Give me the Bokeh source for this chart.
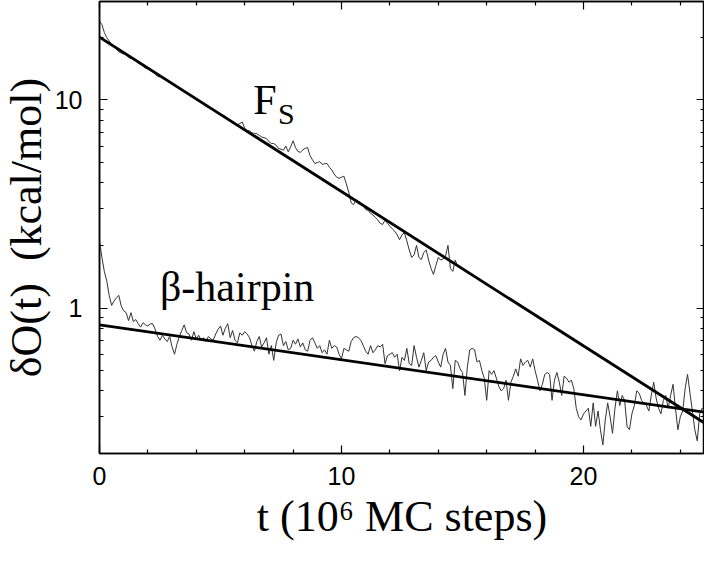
from bokeh.plotting import figure
from bokeh.models import Range1d, LinearAxis, LogAxis, FixedTicker, Label, Title, BasicTickFormatter
from bokeh.embed import file_html
from bokeh.resources import INLINE

# ---- data ----
T_STEP = 0.1  # sampling interval of the traces (10^6 MC steps)

hairpin_vals = [
    2.10, 1.75, 1.50, 1.35, 1.15, 1.03, 1.08, 1.12, 1.15, 1.02,
    0.97, 0.95, 0.87, 0.95, 0.86, 0.88, 0.84, 0.81, 0.85, 0.83,
    0.82, 0.84, 0.84, 0.79, 0.73, 0.70, 0.74, 0.71, 0.69, 0.73,
    0.65, 0.60, 0.67, 0.73, 0.78, 0.83, 0.76, 0.75, 0.70, 0.77,
    0.71, 0.74, 0.70, 0.72, 0.69, 0.73, 0.71, 0.70, 0.75, 0.79,
    0.82, 0.74, 0.80, 0.84, 0.72, 0.78, 0.70, 0.68, 0.76, 0.74,
    0.77, 0.75, 0.72, 0.66, 0.62, 0.69, 0.73, 0.65, 0.68, 0.72,
    0.60, 0.66, 0.56, 0.68, 0.74, 0.75, 0.66, 0.69, 0.63, 0.64,
    0.70, 0.67, 0.71, 0.65, 0.68, 0.63, 0.62, 0.70, 0.72, 0.68,
    0.64, 0.66, 0.61, 0.63, 0.60, 0.70, 0.64, 0.66, 0.65, 0.60,
    0.57, 0.64, 0.63, 0.62, 0.69, 0.72, 0.73, 0.72, 0.70, 0.66,
    0.62, 0.60, 0.66, 0.61, 0.63, 0.66, 0.65, 0.67, 0.54, 0.59,
    0.60, 0.61, 0.58, 0.60, 0.50, 0.58, 0.56, 0.64, 0.54, 0.53,
    0.66, 0.58, 0.52, 0.56, 0.61, 0.50, 0.55, 0.56, 0.58, 0.59,
    0.55, 0.52, 0.60, 0.64, 0.55, 0.53, 0.41, 0.56, 0.55, 0.51,
    0.49, 0.38, 0.52, 0.63, 0.64, 0.63, 0.55, 0.56, 0.50, 0.46,
    0.36, 0.50, 0.48, 0.50, 0.46, 0.42, 0.40, 0.41, 0.45, 0.36,
    0.44, 0.47, 0.51, 0.47, 0.57, 0.53, 0.55, 0.56, 0.52, 0.57,
    0.50, 0.45, 0.40, 0.43, 0.48, 0.49, 0.48, 0.36, 0.45, 0.49,
    0.44, 0.38, 0.47, 0.46, 0.44, 0.45, 0.41, 0.33, 0.30, 0.29,
    0.31, 0.32, 0.33, 0.27, 0.35, 0.27, 0.32, 0.26, 0.22, 0.29,
    0.35, 0.30, 0.25, 0.33, 0.40, 0.34, 0.38, 0.36, 0.27, 0.26,
    0.31, 0.34, 0.40, 0.39, 0.36, 0.35, 0.34, 0.32, 0.38, 0.44,
    0.37, 0.33, 0.31, 0.36, 0.38, 0.33, 0.38, 0.43, 0.33, 0.26,
    0.30, 0.32, 0.41, 0.48, 0.39, 0.32, 0.26, 0.23, 0.31, 0.33,
    0.32,
]

fs_vals = [
    23.9, 23.0, 21.1, 19.9, 19.2, 18.5, 18.0, 17.6, 17.0, 16.8,
    16.6, 16.5, 16.0, 15.8, 15.9, 15.4, 15.0, 14.8, 14.5, 14.2,
    14.1, 14.0, 13.7, 13.3, 13.0, 12.9, 12.8, 12.7, 12.4, 12.1,
    11.9, 11.8, 11.6, 11.3, 11.1, 11.0, 10.8, 10.7, 10.4, 10.2,
    10.0, 9.85, 9.80, 9.55, 9.30, 9.20, 9.15, 9.00, 8.75, 8.60,
    8.55, 8.45, 8.30, 8.10, 8.00, 7.85, 7.68, 7.60, 7.70, 7.83,
    7.30, 7.14, 7.10, 6.94, 6.90, 6.88, 6.75, 6.64, 6.58, 6.52,
    6.30, 6.17, 6.17, 6.05, 5.84, 5.80, 5.73, 6.00, 5.63, 5.95,
    6.36, 5.90, 5.65, 5.60, 5.75, 5.85, 5.90, 5.40, 5.15, 4.95,
    5.00, 5.05, 4.90, 4.93, 4.95, 4.75, 4.60, 4.40, 4.25, 4.20,
    4.25, 4.30, 3.95, 3.60, 3.20, 3.14, 3.31, 3.25, 3.20, 3.10,
    2.97, 2.95, 2.85, 2.80, 2.72, 2.65, 2.55, 2.52, 2.65, 2.55,
    2.47, 2.40, 2.34, 2.25, 2.13, 2.25, 2.30, 2.10, 1.90, 1.75,
    1.80, 2.00, 1.75, 1.71, 1.85, 1.90, 1.70, 1.55, 1.45, 1.60,
    1.75, 1.70, 1.72, 1.78, 2.00, 1.55, 1.50, 1.70, 1.58,
]

hairpin_t = [round(i * T_STEP, 1) for i in range(len(hairpin_vals))]
fs_t = [round(i * T_STEP, 1) for i in range(len(fs_vals))]

# exponential fits (straight lines on the log axis): end points
fit_t = [0.0, 25.0]
fs_fit = [20.0, 0.28]
hairpin_fit = [0.83, 0.316]

x_major = [0, 10, 20]
x_minor = [2, 4, 6, 8, 12, 14, 16, 18, 22, 24]
y_major = [1, 10]
y_minor = [0.2, 0.3, 0.4, 0.5, 0.6, 0.7, 0.8, 0.9,
           2, 3, 4, 5, 6, 7, 8, 9, 20]

x_title = "t (10\u2076 MC steps)"
y_title = "\u03b4O(t)\u00a0\u00a0(kcal/mol)"

# ---- figure ----
SERIF = "Liberation Serif"
SANS = "Liberation Sans"

p = figure(width=704, height=546, y_axis_type="log", title=None,
           x_range=Range1d(0, 25), y_range=Range1d(0.2, 29.7),
           output_backend="svg", toolbar_location=None,
           min_border_left=95, min_border_right=0,
           min_border_top=1, min_border_bottom=93)
p.xgrid.visible = False
p.ygrid.visible = False
p.outline_line_color = "black"
p.outline_line_width = 1.5
p.background_fill_color = "white"
p.border_fill_color = "white"

xt = FixedTicker(ticks=x_major, minor_ticks=x_minor)
yt = FixedTicker(ticks=y_major, minor_ticks=y_minor)


def style_axis(ax, labels=True):
    ax.axis_line_color = "black"
    ax.axis_line_width = 1.5
    ax.major_tick_line_color = "black"
    ax.minor_tick_line_color = "black"
    ax.major_tick_line_width = 1.2
    ax.minor_tick_line_width = 1.2
    ax.major_tick_in = 8
    ax.major_tick_out = 0
    ax.minor_tick_in = 4
    ax.minor_tick_out = 0
    ax.formatter = BasicTickFormatter()
    ax.axis_label = None
    ax.axis_label_standoff = 0
    if labels:
        ax.major_label_text_font = SANS
        ax.major_label_text_font_size = "25px"
        ax.major_label_text_color = "black"
    else:
        ax.major_label_text_font_size = "1px"
        ax.major_label_text_alpha = 0
        ax.major_label_standoff = 0


xb = p.below[0]
xb.ticker = xt
style_axis(xb)
xb.major_label_standoff = 13

yl = p.left[0]
yl.ticker = yt
style_axis(yl)
yl.major_label_standoff = 17

xa = LinearAxis(ticker=xt)
style_axis(xa, labels=False)
p.add_layout(xa, "above")

yr = LogAxis(ticker=yt)
style_axis(yr, labels=False)
p.add_layout(yr, "right")

# axis titles as side-panel titles (not clipped by the frame)
p.add_layout(Title(text=x_title, align="center", vertical_align="bottom",
                   text_font=SERIF, text_font_size="44px",
                   text_font_style="normal", text_color="black",
                   standoff=5, text_line_height=1.0), "below")
p.add_layout(Title(text=y_title, align="center", vertical_align="middle",
                   text_font=SERIF, text_font_size="44px",
                   text_font_style="normal", text_color="black",
                   standoff=0, text_line_height=1.0), "left")

# traces
p.line(hairpin_t, hairpin_vals, line_color="#333333", line_width=1)
p.line(fs_t, fs_vals, line_color="#333333", line_width=1)
# fits
p.line(fit_t, fs_fit, line_color="black", line_width=2.8)
p.line(fit_t, hairpin_fit, line_color="black", line_width=2.8)

# annotations inside the plot
p.add_layout(Label(x=6.35, y=10.0, text="F", text_font=SERIF,
                   text_font_size="42px", text_color="black",
                   text_baseline="alphabetic"))
p.add_layout(Label(x=7.38, y=8.58, text="S", text_font=SERIF,
                   text_font_size="30px", text_color="black",
                   text_baseline="alphabetic"))
p.add_layout(Label(x=2.5, y=1.26, text="\u03b2-hairpin", text_font=SERIF,
                   text_font_size="42px", text_color="black",
                   text_baseline="alphabetic"))

open("out.html", "w").write(file_html(p, INLINE))
